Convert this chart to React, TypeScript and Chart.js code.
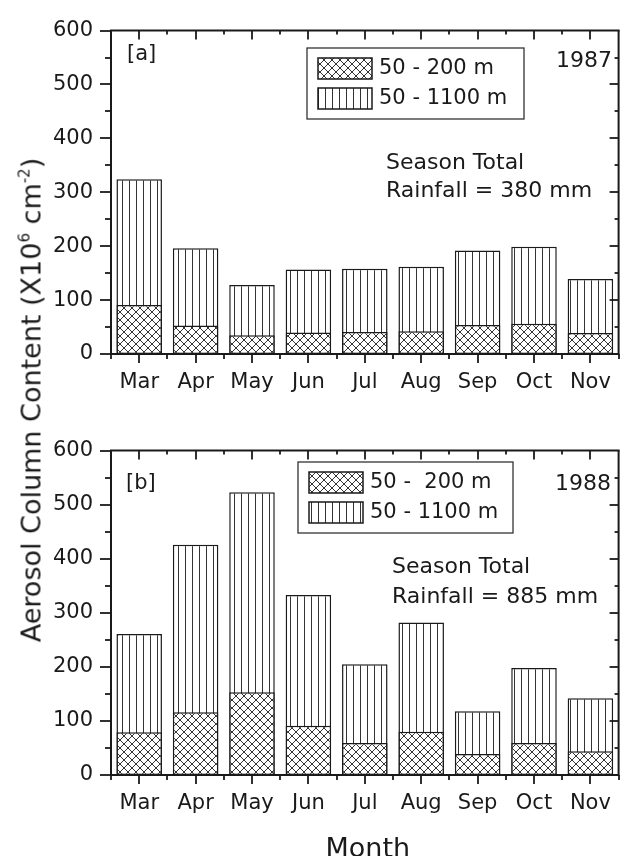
import React, { useEffect, useRef } from 'react';
import { Chart, registerables } from 'chart.js';

Chart.register(...registerables);

// ---------- data ----------
const MONTHS = ['Mar', 'Apr', 'May', 'Jun', 'Jul', 'Aug', 'Sep', 'Oct', 'Nov'];
const LOW_1987 = [91, 53, 35, 40, 41, 42, 54, 56, 39];
const TOTAL_1987 = [324, 196, 128, 157, 158, 162, 192, 199, 139];
const LOW_1988 = [79, 116, 153, 91, 59, 80, 39, 59, 44];
const TOTAL_1988 = [261, 426, 523, 333, 205, 282, 118, 198, 142];
const LEGEND_A = ['50 - 200 m', '50 - 1100 m'];
const LEGEND_B = ['50 -  200 m', '50 - 1100 m'];
const Y_MIN = 0;
const Y_MAX = 600;
const Y_STEP = 100;
const Y_MINOR_STEP = 50;
const RAIN_A = ['Season Total', 'Rainfall = 380 mm'];
const RAIN_B = ['Season Total', 'Rainfall = 885 mm'];
const X_TITLE = 'Month';

const FONT = "'DejaVu Sans', 'Liberation Sans', Arial, sans-serif";
const INK = '#1a1a1a';

function makeVerticalPattern(): CanvasPattern | string {
  const c = document.createElement('canvas');
  c.width = 7;
  c.height = 7;
  const g = c.getContext('2d');
  if (!g) return '#fff';
  g.fillStyle = '#fff';
  g.fillRect(0, 0, 7, 7);
  g.fillStyle = '#333';
  g.fillRect(3, 0, 1, 7);
  return g.createPattern(c, 'repeat') || '#fff';
}

function makeCrossPattern(): CanvasPattern | string {
  const s = 8;
  const c = document.createElement('canvas');
  c.width = s;
  c.height = s;
  const g = c.getContext('2d');
  if (!g) return '#fff';
  g.fillStyle = '#fff';
  g.fillRect(0, 0, s, s);
  g.strokeStyle = '#333';
  g.lineWidth = 1;
  g.beginPath();
  g.moveTo(-1, -1);
  g.lineTo(s + 1, s + 1);
  g.moveTo(s + 1, -1);
  g.lineTo(-1, s + 1);
  g.stroke();
  return g.createPattern(c, 'repeat') || '#fff';
}

interface PanelCfg {
  low: number[];
  total: number[];
  legend: string[];
  tag: string;
  year: string;
  rain: string[];
  height: number;
  plotTop: number;
  xAxisHeight: number;
  legendBox: { x: number; y: number; w: number; h: number };
  tagPos: { x: number; y: number };
  yearPos: { x: number; y: number };
  rainPos: { x: number; y: number; dy: number };
  xTitle?: string;
  xTitleY?: number;
}

function line(ctx: CanvasRenderingContext2D, x1: number, y1: number, x2: number, y2: number) {
  ctx.beginPath();
  ctx.moveTo(x1, y1);
  ctx.lineTo(x2, y2);
  ctx.stroke();
}

function makeDecorPlugin(cfg: PanelCfg) {
  return {
    id: 'decor',
    afterDraw(chart: any) {
      const ctx: CanvasRenderingContext2D = chart.ctx;
      const { left, right, top, bottom } = chart.chartArea;
      const ys = chart.scales.y;
      const xs = chart.scales.x;
      ctx.save();
      ctx.strokeStyle = INK;
      ctx.lineCap = 'butt';

      // frame top & right
      ctx.lineWidth = 2;
      line(ctx, left - 1, top, right + 1, top);
      line(ctx, right, top, right, bottom + 1);

      // y ticks
      ctx.lineWidth = 1.8;
      for (let v = Y_MIN; v <= Y_MAX; v += Y_MINOR_STEP) {
        const py = Math.round(ys.getPixelForValue(v)) + 0.0;
        const major = v % Y_STEP === 0;
        line(ctx, left - (major ? 11 : 6), py, left, py);
        if (v !== Y_MIN && v !== Y_MAX) line(ctx, right, py, right - (major ? 9 : 4), py);
      }
      // x ticks
      const n = chart.data.labels.length;
      for (let i = 0; i < n; i++) {
        const px = Math.round(xs.getPixelForValue(i));
        line(ctx, px, bottom, px, bottom + 9);
        line(ctx, px, top, px, top + 9);
      }
      for (let i = 0; i <= n; i++) {
        const px = Math.round(xs.getPixelForValue(i - 0.5));
        line(ctx, px, bottom, px, bottom + 5);
        if (i > 0 && i < n) line(ctx, px, top, px, top + 4);
      }

      // legend
      const lb = cfg.legendBox;
      ctx.lineWidth = 1.3;
      ctx.strokeStyle = '#333';
      ctx.strokeRect(lb.x, lb.y, lb.w, lb.h);
      chart.data.datasets.forEach((ds: any, i: number) => {
        const sy = lb.y + 10 + i * 30;
        ctx.fillStyle = ds.backgroundColor;
        ctx.fillRect(lb.x + 11, sy, 54, 21);
        ctx.strokeStyle = INK;
        ctx.lineWidth = 1.5;
        ctx.strokeRect(lb.x + 11, sy, 54, 21);
        ctx.fillStyle = INK;
        ctx.font = `21px ${FONT}`;
        ctx.textAlign = 'left';
        ctx.textBaseline = 'middle';
        ctx.fillText(ds.label, lb.x + 72, sy + 11);
      });

      // annotations
      ctx.fillStyle = INK;
      ctx.textAlign = 'left';
      ctx.textBaseline = 'alphabetic';
      ctx.font = `21px ${FONT}`;
      ctx.fillText(cfg.tag, cfg.tagPos.x, cfg.tagPos.y);
      ctx.font = `22px ${FONT}`;
      ctx.fillText(cfg.year, cfg.yearPos.x, cfg.yearPos.y);
      cfg.rain.forEach((t, i) => {
        ctx.fillText(t, cfg.rainPos.x, cfg.rainPos.y + i * cfg.rainPos.dy);
      });

      if (cfg.xTitle) {
        ctx.font = `27px ${FONT}`;
        ctx.textAlign = 'center';
        ctx.fillText(cfg.xTitle, (left + right) / 2 + 3, cfg.xTitleY || 0);
      }
      ctx.restore();
    },
  };
}

function Panel({ cfg, top }: { cfg: PanelCfg; top: number }) {
  const ref = useRef<HTMLCanvasElement | null>(null);
  useEffect(() => {
    if (!ref.current) return;
    const cross = makeCrossPattern();
    const vert = makeVerticalPattern();
    const common = {
      borderColor: INK,
      borderWidth: 1.5,
      borderSkipped: false as const,
      grouped: false,
      barPercentage: 0.807,
      categoryPercentage: 1,
    };
    const tickFont = { family: FONT, size: 21 };
    const chart = new Chart(ref.current, {
      type: 'bar',
      data: {
        labels: MONTHS,
        datasets: [
          { label: cfg.legend[0], data: cfg.low, backgroundColor: cross as any, ...common },
          { label: cfg.legend[1], data: cfg.total, backgroundColor: vert as any, ...common },
        ],
      },
      options: {
        responsive: false,
        maintainAspectRatio: false,
        animation: false,
        layout: { padding: { top: cfg.plotTop, right: 2, left: 0, bottom: 0 } },
        plugins: {
          legend: { display: false },
          tooltip: { enabled: false },
          title: { display: false },
        },
        scales: {
          x: {
            grid: { display: false, drawTicks: false },
            border: { display: true, width: 2, color: INK },
            ticks: { font: tickFont, color: INK, padding: 16, maxRotation: 0, autoSkip: false },
            afterFit: (s: any) => {
              s.height = cfg.xAxisHeight;
            },
          },
          y: {
            min: Y_MIN,
            max: Y_MAX,
            grid: { display: false, drawTicks: false },
            border: { display: true, width: 2, color: INK },
            ticks: { stepSize: Y_STEP, font: tickFont, color: INK, padding: 18 },
            afterFit: (s: any) => {
              s.width = 111;
            },
          },
        },
      },
      plugins: [makeDecorPlugin(cfg)],
    });
    return () => chart.destroy();
  }, [cfg]);
  return (
    <canvas
      ref={ref}
      width={627}
      height={cfg.height}
      style={{ position: 'absolute', left: 0, top, width: 627, height: cfg.height }}
    />
  );
}

const PANEL_A: PanelCfg = {
  low: LOW_1987,
  total: TOTAL_1987,
  legend: LEGEND_A,
  tag: '[a]',
  year: '1987',
  rain: RAIN_A,
  height: 420,
  plotTop: 23,
  xAxisHeight: 66,
  legendBox: { x: 307, y: 48, w: 217, h: 71 },
  tagPos: { x: 127, y: 60 },
  yearPos: { x: 556, y: 67 },
  rainPos: { x: 386, y: 169, dy: 28 },
};

const PANEL_B: PanelCfg = {
  low: LOW_1988,
  total: TOTAL_1988,
  legend: LEGEND_B,
  tag: '[b]',
  year: '1988',
  rain: RAIN_B,
  height: 436,
  plotTop: 24,
  xAxisHeight: 81,
  legendBox: { x: 298, y: 42, w: 215, h: 71 },
  tagPos: { x: 126, y: 69 },
  yearPos: { x: 555, y: 70 },
  rainPos: { x: 392, y: 153, dy: 30 },
  xTitle: X_TITLE,
  xTitleY: 437,
};

export default function App() {
  return (
    <div
      style={{
        position: 'absolute',
        left: 0,
        top: 0,
        width: 627,
        height: 856,
        background: '#fff',
        overflow: 'hidden',
      }}
    >
      <Panel cfg={PANEL_A} top={0} />
      <Panel cfg={PANEL_B} top={420} />
      <div
        style={{
          position: 'absolute',
          left: 28,
          top: 400,
          transform: 'translate(-50%, -50%) rotate(-90deg)',
          whiteSpace: 'nowrap',
          fontFamily: FONT,
          fontSize: 27,
          color: INK,
          lineHeight: '32px',
        }}
      >
        Aerosol Column Content (X10
        <span style={{ fontSize: 15, verticalAlign: '11px' }}>6</span>
        {' '}cm
        <span style={{ fontSize: 15, verticalAlign: '11px' }}>-2</span>)
      </div>
    </div>
  );
}
